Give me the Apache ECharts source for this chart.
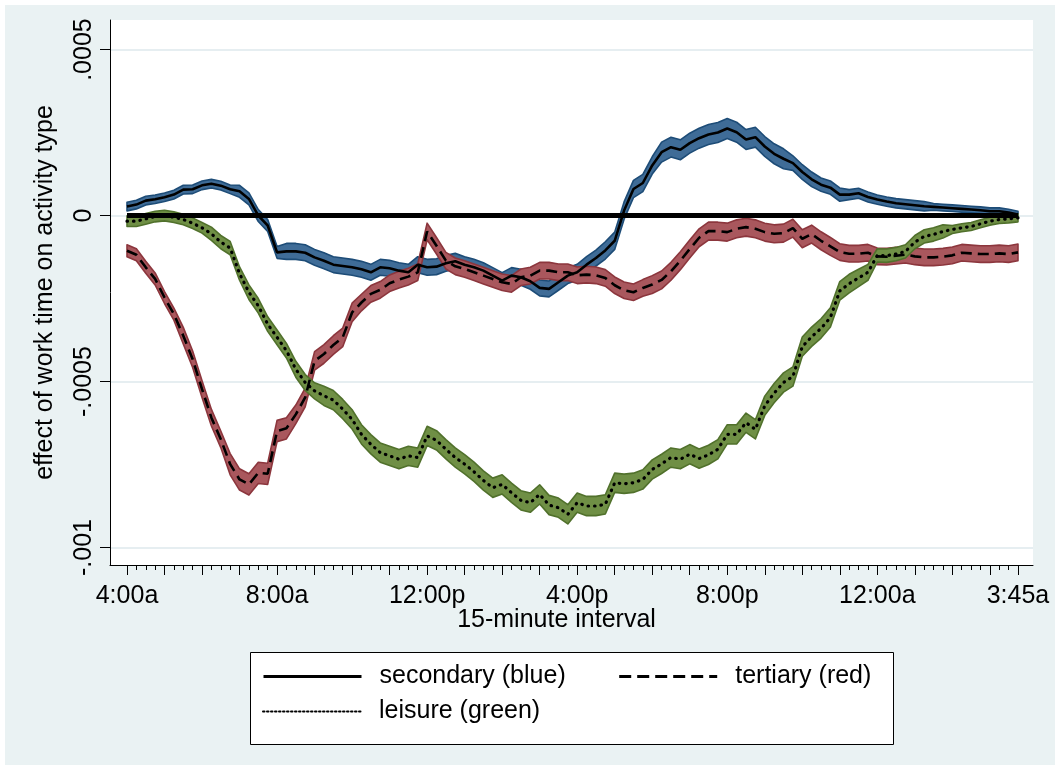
<!DOCTYPE html>
<html><head><meta charset="utf-8">
<script src="https://cdn.jsdelivr.net/npm/echarts@6/dist/echarts.min.js"></script>
<style>html,body{margin:0;padding:0;background:#fff}#c{width:1060px;height:770px}</style>
</head><body><div id="c"></div>
<script>
// 96 fifteen-minute slots, 4:00a (0) .. 3:45a (95)
const slots = Array.from({length: 96}, (_, i) => i);
const xLabelIdx = [0, 16, 32, 48, 64, 80, 95];
const xLabelText = ['4:00a', '8:00a', '12:00p', '4:00p', '8:00p', '12:00a', '3:45a'];
const hourTicks = [0,4,8,12,16,20,24,28,32,36,40,44,48,52,56,60,64,68,72,76,80,84,88,92,95];
const yTickVals = [-0.001, -0.0005, 0, 0.0005];
const yTickText = ['-.001', '-.0005', '0', '.0005'];
const zeroLine = 0;

const seriesNames = ['secondary (blue)', 'tertiary (red)', 'leisure (green)'];

const secondaryMid = [2.7e-5,3.3e-5,4.5e-5,4.9e-5,5.5e-5,6.3e-5,7.8e-5,7.9e-5,9.1e-5,9.6e-5,9.0e-5,7.9e-5,
 7.3e-5,5.0e-5,0,-3.0e-5,-11.1e-5,-10.8e-5,-10.8e-5,-11.2e-5,-12.6e-5,-13.6e-5,-14.8e-5,-15.2e-5,
 -15.6e-5,-16.2e-5,-17.1e-5,-15.6e-5,-15.9e-5,-16.6e-5,-17.1e-5,-14.8e-5,-15.6e-5,-15.4e-5,-14.4e-5,-13.8e-5,
 -14.8e-5,-15.6e-5,-16.6e-5,-18.1e-5,-19.6e-5,-18.1e-5,-18.6e-5,-19.8e-5,-21.8e-5,-22.1e-5,-20.1e-5,-18.1e-5,
 -17.1e-5,-14.8e-5,-12.8e-5,-10.5e-5,-7.6e-5,1.5e-5,8.0e-5,9.8e-5,15.1e-5,19.1e-5,20.6e-5,19.8e-5,
 21.8e-5,23.3e-5,24.4e-5,25.0e-5,26.2e-5,25.1e-5,22.9e-5,23.6e-5,20.8e-5,18.6e-5,17.1e-5,15.8e-5,
 13.1e-5,10.9e-5,9.3e-5,8.4e-5,6.3e-5,6.3e-5,6.7e-5,5.6e-5,4.8e-5,4.2e-5,3.7e-5,3.4e-5,
 3.1e-5,2.8e-5,2.6e-5,2.4e-5,2.2e-5,2.0e-5,1.8e-5,1.6e-5,1.3e-5,1.3e-5,0.9e-5,0.3e-5];
const secondaryHalf = [1.3e-5,1.3e-5,1.3e-5,1.3e-5,1.3e-5,1.3e-5,1.3e-5,1.3e-5,1.3e-5,1.3e-5,1.3e-5,1.3e-5,
 1.8e-5,1.8e-5,1.8e-5,1.8e-5,1.8e-5,2.4e-5,2.4e-5,2.4e-5,2.4e-5,2.4e-5,2.4e-5,2.4e-5,
 2.4e-5,2.4e-5,2.4e-5,2.4e-5,2.4e-5,2.4e-5,2.4e-5,2.4e-5,2.4e-5,2.4e-5,2.4e-5,2.4e-5,
 2.4e-5,2.4e-5,2.4e-5,2.4e-5,2.4e-5,2.4e-5,2.4e-5,2.4e-5,2.4e-5,2.4e-5,2.4e-5,2.4e-5,
 2.4e-5,2.4e-5,2.4e-5,2.6e-5,2.6e-5,2.6e-5,2.6e-5,2.6e-5,2.6e-5,3.0e-5,3.0e-5,3.0e-5,
 3.0e-5,3.0e-5,3.0e-5,3.0e-5,3.0e-5,3.0e-5,3.0e-5,3.0e-5,3.0e-5,3.0e-5,3.0e-5,2.2e-5,
 2.2e-5,2.2e-5,2.0e-5,2.0e-5,2.0e-5,1.5e-5,1.5e-5,1.5e-5,1.4e-5,1.4e-5,1.4e-5,1.4e-5,
 1.4e-5,1.4e-5,1.0e-5,1.0e-5,1.0e-5,1.0e-5,1.0e-5,1.0e-5,1.0e-5,1.0e-5,1.0e-5,1.0e-5];

const tertiaryMid = [-10.6e-5,-11.8e-5,-15.6e-5,-19.1e-5,-24.7e-5,-29.7e-5,-36.2e-5,-43.3e-5,-52.3e-5,-60.9e-5,-67.4e-5,-74.9e-5,
 -79.5e-5,-81.0e-5,-77.5e-5,-77.8e-5,-64.9e-5,-64.1e-5,-59.9e-5,-54.8e-5,-43.8e-5,-41.7e-5,-39.0e-5,-36.7e-5,
 -29.2e-5,-26.2e-5,-23.6e-5,-22.4e-5,-20.4e-5,-19.3e-5,-18.4e-5,-17.1e-5,-4.8e-5,-9.1e-5,-13.6e-5,-15.3e-5,
 -16.1e-5,-17.1e-5,-18.1e-5,-19.1e-5,-20.1e-5,-20.6e-5,-18.6e-5,-18.1e-5,-16.6e-5,-16.6e-5,-17.1e-5,-17.1e-5,
 -18.0e-5,-17.8e-5,-18.0e-5,-18.8e-5,-21.0e-5,-22.5e-5,-23.1e-5,-21.8e-5,-20.8e-5,-19.4e-5,-16.8e-5,-13.6e-5,
 -10.1e-5,-6.7e-5,-4.7e-5,-4.7e-5,-5.0e-5,-4.0e-5,-3.5e-5,-4.0e-5,-5.0e-5,-5.5e-5,-5.3e-5,-3.8e-5,
 -7.0e-5,-5.6e-5,-7.6e-5,-9.3e-5,-11.0e-5,-11.5e-5,-11.5e-5,-11.2e-5,-12.3e-5,-12.4e-5,-12.1e-5,-11.8e-5,
 -12.3e-5,-12.6e-5,-12.6e-5,-12.4e-5,-12.0e-5,-11.2e-5,-11.4e-5,-11.6e-5,-11.6e-5,-11.4e-5,-11.6e-5,-11.1e-5];
const tertiaryHalf = [1.8e-5,1.8e-5,1.8e-5,1.8e-5,1.8e-5,1.8e-5,2.5e-5,2.5e-5,2.5e-5,2.5e-5,2.5e-5,3.2e-5,
 3.2e-5,3.2e-5,3.2e-5,3.2e-5,3.2e-5,3.2e-5,2.8e-5,2.8e-5,2.8e-5,2.8e-5,2.8e-5,2.8e-5,
 2.8e-5,2.5e-5,2.5e-5,2.5e-5,2.5e-5,2.5e-5,2.5e-5,2.5e-5,2.5e-5,2.5e-5,2.5e-5,2.5e-5,
 2.5e-5,2.5e-5,2.5e-5,2.5e-5,2.5e-5,2.5e-5,2.5e-5,2.5e-5,2.5e-5,2.5e-5,2.5e-5,2.5e-5,
 2.5e-5,2.5e-5,2.5e-5,2.5e-5,2.5e-5,2.5e-5,2.5e-5,2.5e-5,2.7e-5,2.7e-5,2.7e-5,2.7e-5,
 2.7e-5,2.7e-5,2.7e-5,2.7e-5,2.7e-5,2.7e-5,2.7e-5,2.7e-5,2.7e-5,2.7e-5,2.7e-5,2.7e-5,
 2.7e-5,2.7e-5,2.7e-5,2.7e-5,2.5e-5,2.5e-5,2.5e-5,2.5e-5,2.5e-5,2.5e-5,2.5e-5,2.5e-5,
 2.5e-5,2.5e-5,2.5e-5,2.5e-5,2.5e-5,2.5e-5,2.5e-5,2.5e-5,2.5e-5,2.5e-5,2.5e-5,2.5e-5];

const leisureMid = [-1.7e-5,-1.7e-5,-1.0e-5,-0.3e-5,0,-0.5e-5,-1.2e-5,-2.3e-5,-3.7e-5,-5.5e-5,-8.0e-5,-9.8e-5,
 -17.5e-5,-23.1e-5,-27.2e-5,-32.7e-5,-36.7e-5,-40.7e-5,-46.3e-5,-50.3e-5,-52.8e-5,-54.3e-5,-55.6e-5,-58.3e-5,
 -61.4e-5,-65.9e-5,-68.9e-5,-71.4e-5,-72.4e-5,-73.4e-5,-72.4e-5,-72.9e-5,-66.4e-5,-67.7e-5,-70.4e-5,-72.9e-5,
 -74.9e-5,-77.2e-5,-79.8e-5,-82.0e-5,-81.0e-5,-83.5e-5,-85.8e-5,-86.5e-5,-84.0e-5,-87.2e-5,-88.0e-5,-90.0e-5,
 -86.5e-5,-87.5e-5,-87.5e-5,-87.0e-5,-80.5e-5,-80.8e-5,-80.5e-5,-79.5e-5,-76.5e-5,-74.8e-5,-72.9e-5,-73.4e-5,
 -71.9e-5,-73.2e-5,-72.1e-5,-70.4e-5,-65.9e-5,-65.9e-5,-62.4e-5,-64.4e-5,-57.3e-5,-53.5e-5,-50.3e-5,-48.5e-5,
 -39.5e-5,-36.5e-5,-34.0e-5,-30.7e-5,-22.7e-5,-20.5e-5,-18.8e-5,-17.1e-5,-12.0e-5,-12.1e-5,-11.6e-5,-10.8e-5,
 -8.0e-5,-6.3e-5,-5.7e-5,-4.8e-5,-4.2e-5,-3.7e-5,-3.3e-5,-2.5e-5,-1.7e-5,-1.2e-5,-1.0e-5,-0.7e-5];
const leisureHalf = [1.6e-5,1.6e-5,1.6e-5,1.6e-5,1.6e-5,1.6e-5,1.6e-5,1.6e-5,1.6e-5,2.0e-5,2.0e-5,2.0e-5,
 2.0e-5,2.2e-5,2.2e-5,2.2e-5,2.2e-5,2.2e-5,2.4e-5,2.4e-5,2.4e-5,2.9e-5,2.9e-5,2.9e-5,
 2.9e-5,2.9e-5,2.9e-5,2.9e-5,2.9e-5,2.9e-5,2.9e-5,2.9e-5,2.9e-5,2.9e-5,2.9e-5,2.9e-5,
 2.9e-5,2.9e-5,2.9e-5,2.9e-5,2.9e-5,2.9e-5,2.9e-5,2.9e-5,2.9e-5,2.9e-5,2.9e-5,2.9e-5,
 2.9e-5,2.9e-5,2.9e-5,2.9e-5,2.9e-5,2.9e-5,2.9e-5,2.9e-5,2.9e-5,2.9e-5,2.9e-5,2.9e-5,
 2.9e-5,2.9e-5,2.9e-5,2.9e-5,2.9e-5,2.9e-5,2.9e-5,2.9e-5,2.9e-5,2.9e-5,2.9e-5,2.9e-5,
 2.9e-5,2.9e-5,2.9e-5,2.9e-5,2.8e-5,2.8e-5,2.6e-5,2.4e-5,2.0e-5,2.0e-5,2.0e-5,2.0e-5,
 2.0e-5,2.0e-5,2.0e-5,2.0e-5,1.2e-5,1.2e-5,1.2e-5,1.2e-5,1.2e-5,1.2e-5,1.2e-5,1.2e-5];

const FONT = '"Liberation Sans", Arial, Helvetica, sans-serif';
const X_MIN = -1.8126, X_MAX = 96.6;
const Y_MIN = -0.0010527, Y_MAX = 0.000589;

function nearestText(vals, texts, v) {
  let best = 0;
  for (let k = 1; k < vals.length; k++) if (Math.abs(vals[k] - v) < Math.abs(vals[best] - v)) best = k;
  return texts[best];
}

function band(id, mid, half, fill, stroke) {
  const lo = mid.map((m, i) => m - half[i]);
  const hi = mid.map((m, i) => m + half[i]);
  return {
    type: 'custom', id: id, name: id, silent: true, animation: false, z: 2,
    data: slots.map(i => [i, lo[i], hi[i]]),
    encode: {x: 0, y: [1, 2]},
    renderItem: function (params, api) {
      if (params.dataIndex !== 0) return null;
      const pts = [];
      for (let k = 0; k < slots.length; k++) pts.push(api.coord([slots[k], hi[k]]));
      for (let k = slots.length - 1; k >= 0; k--) pts.push(api.coord([slots[k], lo[k]]));
      return {type: 'polygon', shape: {points: pts}, style: {fill: fill, stroke: stroke, lineWidth: 1.6, lineJoin: 'round'}};
    }
  };
}

function centerLine(name, mid, lineStyle) {
  return {
    type: 'line', name: name, silent: true, animation: false, z: 4,
    symbol: 'none', showSymbol: false,
    itemStyle: {color: '#000'},
    data: slots.map(i => [i, mid[i]]),
    lineStyle: Object.assign({color: '#000', width: 2.6}, lineStyle)
  };
}

const chart = echarts.init(document.getElementById('c'), null, {renderer: 'canvas'});
const txt = {fontFamily: FONT, fontSize: 25, color: '#000'};
const noSymbol = {color: 'rgba(0,0,0,0)', borderWidth: 0, opacity: 0};

const option = {
  animation: false,
  backgroundColor: '#fff',
  textStyle: {fontFamily: FONT},
  graphic: [
    {type: 'rect', z: -10, silent: true, shape: {x: 5, y: 5, width: 1050, height: 760}, style: {fill: '#EAF2F3'}},
    {type: 'rect', z: 1, silent: true, shape: {x: 250.5, y: 652.5, width: 643, height: 92}, style: {fill: '#fff', stroke: '#000', lineWidth: 1}}
  ],
  grid: {left: 110, right: 27, top: 20, bottom: 205, show: true, backgroundColor: '#fff', borderWidth: 0},
  xAxis: [
    {
      type: 'value', min: X_MIN, max: X_MAX, position: 'bottom',
      axisLine: {show: true, onZero: false, lineStyle: {color: '#000', width: 1}},
      axisTick: {show: true, customValues: slots, length: 5, lineStyle: {color: '#000', width: 1}},
      axisLabel: {show: false},
      splitLine: {show: false},
      name: '15-minute interval', nameLocation: 'middle', nameGap: 43,
      nameTextStyle: Object.assign({}, txt, {padding: [0, 30, 0, 0]})
    },
    {
      type: 'value', min: X_MIN, max: X_MAX, position: 'bottom',
      axisLine: {show: false, onZero: false},
      axisTick: {show: true, customValues: hourTicks, length: 10, lineStyle: {color: '#000', width: 1}},
      axisLabel: Object.assign({customValues: xLabelIdx, margin: 19,
        formatter: v => nearestText(xLabelIdx, xLabelText, v)}, txt),
      splitLine: {show: false}
    }
  ],
  yAxis: {
    type: 'value', min: Y_MIN, max: Y_MAX,
    axisLine: {show: true, onZero: false, lineStyle: {color: '#000', width: 1}},
    axisTick: {show: true, customValues: yTickVals, length: 10, lineStyle: {color: '#000', width: 1}},
    axisLabel: Object.assign({customValues: yTickVals, rotate: 90, margin: 13,
      formatter: v => nearestText(yTickVals, yTickText, v)}, txt),
    splitLine: {show: true, lineStyle: {color: '#E6EEF1', width: 2}},
    name: 'effect of work time on activity type', nameLocation: 'middle', nameGap: 52,
    nameTextStyle: txt
  },
  legend: [
    {
      data: [
        {name: seriesNames[0], itemStyle: noSymbol, lineStyle: {color: '#000', width: 3, type: 'solid'}},
        {name: seriesNames[1], itemStyle: noSymbol, lineStyle: {color: '#000', width: 3, type: [12, 6]}}
      ],
      left: 262, top: 664, padding: 0, itemWidth: 98, itemHeight: 14, itemGap: 52,
      selectedMode: false, z: 5,
      textStyle: Object.assign({}, txt, {padding: [0, 0, 0, 13]})
    },
    {
      data: [
        {name: seriesNames[2], itemStyle: noSymbol, lineStyle: {color: '#000', width: 2, type: [1.5, 2.5]}}
      ],
      left: 262, top: 699, padding: 0, itemWidth: 98, itemHeight: 14,
      selectedMode: false, z: 5,
      textStyle: Object.assign({}, txt, {padding: [0, 0, 0, 13]})
    }
  ],
  series: [
    band('band-secondary', secondaryMid, secondaryHalf, '#3F6C97', '#1D4C77'),
    band('band-tertiary', tertiaryMid, tertiaryHalf, '#A9575D', '#8C363D'),
    band('band-leisure', leisureMid, leisureHalf, '#6F8F45', '#51712C'),
    Object.assign(centerLine(seriesNames[0], secondaryMid, {type: 'solid'}), {
      markLine: {
        silent: true, symbol: 'none', animation: false, label: {show: false},
        lineStyle: {color: '#000', width: 5, type: 'solid'},
        data: [[{coord: [slots[0], zeroLine]}, {coord: [slots[slots.length - 1], zeroLine]}]]
      }
    }),
    centerLine(seriesNames[1], tertiaryMid, {type: [11, 6]}),
    centerLine(seriesNames[2], leisureMid, {type: [0.5, 6], cap: 'round', width: 3.2})
  ]
};
chart.setOption(option);
</script>
</body></html>
